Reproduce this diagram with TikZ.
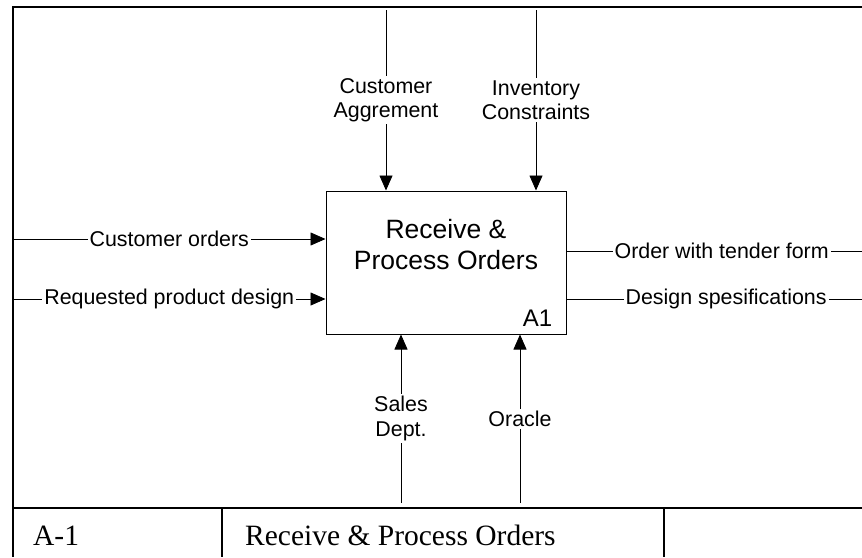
\documentclass[tikz,border=0pt]{standalone}
\usepackage{fontspec}
\setmainfont{Liberation Serif}
\newfontfamily\arialfont{Liberation Sans}
\usetikzlibrary{arrows.meta}

\begin{document}
\begin{tikzpicture}[
  x=1pt, y=-1pt,
  every node/.style={font=\arialfont\fontsize{21.4}{24.6}\selectfont},
  actbox/.style={rectangle, draw, line width=1pt, minimum width=240pt,
    minimum height=143pt, inner sep=0pt},
  flow/.style={line width=0.8pt, -{Triangle[length=15pt, width=13pt]}},
  outflow/.style={line width=0.8pt},
  flowlabel/.style={fill=white, inner sep=2pt, align=center},
  frameline/.style={line width=1.8pt},
  tabtext/.style={anchor=base west, inner sep=0pt,
    font=\rmfamily\fontsize{29.5}{34}\selectfont},
]
\useasboundingbox (0,0) rectangle (862,557);

% Frame and title strip
\draw[frameline] (862,7) -- (13,7) -- (13,557);
\draw[frameline] (13,508) -- (862,508);
\draw[frameline] (222,508) -- (222,557);
\draw[frameline] (664,508) -- (664,557);
\node[tabtext] (nodeno) at (33,545) {A-1};
\node[tabtext] (nodetitle) at (245,545) {Receive \& Process Orders};

% Activity box
\node[actbox] (act) at (446,262.5) {};
\node[font=\arialfont\fontsize{26.5}{31}\selectfont, align=center] (acttitle)
  at (446,245) {Receive \&\\Process Orders};
\node[font=\arialfont\fontsize{24}{28}\selectfont, anchor=base east, inner sep=0pt]
  (actid) at ([xshift=-14pt, yshift=8pt]act.south east) {A1};

% Free ends of the flows
\coordinate (ctl1) at (386,10);
\coordinate (ctl2) at (536,10);
\coordinate (in1) at (13,239);
\coordinate (in2) at (13,299);
\coordinate (out1) at (862,251);
\coordinate (out2) at (862,299);
\coordinate (mech1) at (401,503);
\coordinate (mech2) at (520,503);

% Controls
\draw[flow] (ctl1) -- node[flowlabel] (ctl1lbl) {Customer\\Aggrement} (ctl1 |- act.north);
\draw[flow] (ctl2) -- node[flowlabel] (ctl2lbl) {Inventory\\Constraints} (ctl2 |- act.north);

% Inputs
\draw[flow] (in1) -- node[flowlabel] (in1lbl) {Customer orders} (in1 -| act.west);
\draw[flow] (in2) -- node[flowlabel] (in2lbl) {Requested product design} (in2 -| act.west);

% Outputs
\draw[outflow] (act.east |- out1) -- node[flowlabel, pos=0.525] (out1lbl) {Order with tender form} (out1);
\draw[outflow] (act.east |- out2) -- node[flowlabel, pos=0.54] (out2lbl) {Design spesifications} (out2);

% Mechanisms
\draw[flow] (mech1) -- node[flowlabel] (mech1lbl) {Sales\\Dept.} (mech1 |- act.south);
\draw[flow] (mech2) -- node[flowlabel] (mech2lbl) {Oracle} (mech2 |- act.south);

\end{tikzpicture}
\end{document}
